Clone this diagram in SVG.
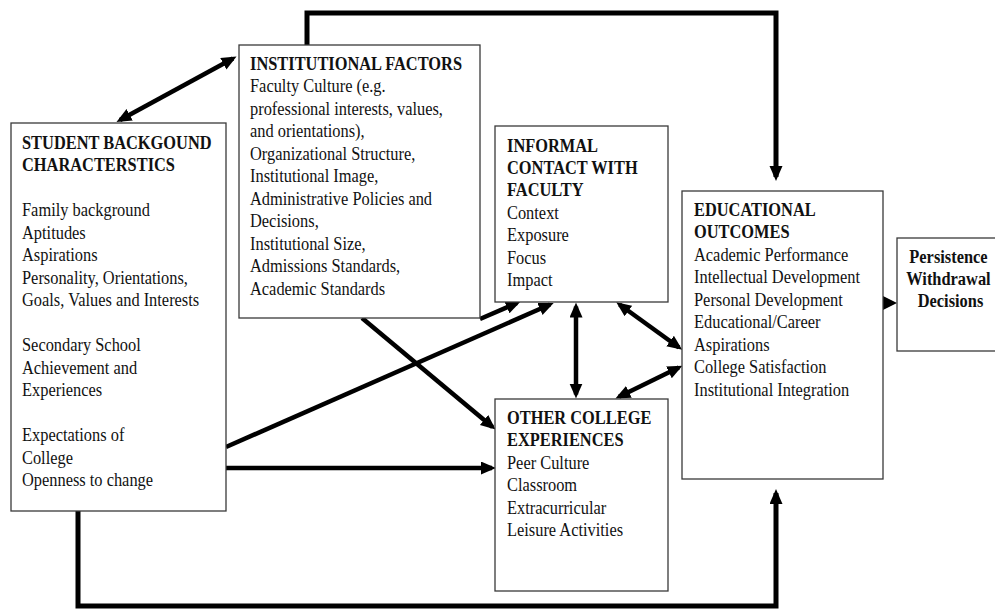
<svg xmlns="http://www.w3.org/2000/svg" width="995" height="610" viewBox="0 0 995 610">
  <style>
    .box { fill: #ffffff; stroke: #3a3a3a; stroke-width: 1.3; }
    .t { font-family: "Liberation Serif", "Times New Roman", serif; font-size: 16.4px; fill: #111111; }
    .b { font-weight: bold; }
    .c { fill: none; stroke: #000000; stroke-width: 4.5; stroke-linejoin: miter; }
    .thick { stroke-width: 5; }
  </style>
  <defs>
    <marker id="head" markerUnits="userSpaceOnUse" markerWidth="16" markerHeight="14" refX="11" refY="6.5" orient="auto-start-reverse">
      <path d="M0,0 L15,6.5 L0,13 z" fill="#000000"/>
    </marker>
  </defs>

  <rect width="995" height="610" fill="#ffffff"/>

  <!-- connectors -->
  <g id="connectors">
    <!-- feedback loop over the top: institutional factors to outcomes -->
    <path class="c thick" d="M307,45 V13 H776 V177" marker-end="url(#head)"/>
    <!-- loop along the bottom: background to outcomes -->
    <path class="c thick" d="M78,511 V606 H776 V493" marker-end="url(#head)"/>
    <!-- background <-> institutional -->
    <path class="c" d="M120,120 L233,58.5" marker-start="url(#head)" marker-end="url(#head)"/>
    <!-- background -> informal contact -->
    <path class="c" d="M226,447 L550,304.5" marker-end="url(#head)"/>
    <!-- background -> other experiences -->
    <path class="c" d="M226,468 L492,468" marker-end="url(#head)"/>
    <!-- institutional -> informal contact -->
    <path class="c" d="M480,319 L517,303" marker-end="url(#head)"/>
    <!-- institutional -> other experiences -->
    <path class="c" d="M362,318 L492.5,427" marker-end="url(#head)"/>
    <!-- informal <-> other experiences -->
    <path class="c" d="M576,306.5 L576,394.5" marker-start="url(#head)" marker-end="url(#head)"/>
    <!-- informal <-> outcomes -->
    <path class="c" d="M619.5,304.5 L679,347.5" marker-start="url(#head)" marker-end="url(#head)"/>
    <!-- other experiences <-> outcomes -->
    <path class="c" d="M619,396.8 L678.8,367.5" marker-start="url(#head)" marker-end="url(#head)"/>
    <!-- outcomes -> persistence -->
    <path d="M883,296 L897,303 L883,310 z" fill="#000000"/>
  </g>

  <!-- student background -->
  <g id="student">
    <rect class="box" x="11" y="123" width="215" height="388"/>
    <text class="t" transform="translate(22 149) scale(1 1.13)">
      <tspan class="b" x="0" y="0">STUDENT BACKGOUND</tspan>
      <tspan class="b" x="0" dy="19.9">CHARACTERSTICS</tspan>
      <tspan x="0" dy="39.8">Family background</tspan>
      <tspan x="0" dy="19.9">Aptitudes</tspan>
      <tspan x="0" dy="19.9">Aspirations</tspan>
      <tspan x="0" dy="19.9">Personality, Orientations,</tspan>
      <tspan x="0" dy="19.9">Goals, Values and Interests</tspan>
      <tspan x="0" dy="39.8">Secondary School</tspan>
      <tspan x="0" dy="19.9">Achievement and</tspan>
      <tspan x="0" dy="19.9">Experiences</tspan>
      <tspan x="0" dy="39.8">Expectations of</tspan>
      <tspan x="0" dy="19.9">College</tspan>
      <tspan x="0" dy="19.9">Openness to change</tspan>
    </text>
  </g>

  <!-- institutional factors -->
  <g id="institutional">
    <rect class="box" x="239" y="45" width="241" height="273"/>
    <text class="t" transform="translate(250 70) scale(1 1.13)">
      <tspan class="b" x="0" y="0">INSTITUTIONAL FACTORS</tspan>
      <tspan x="0" dy="19.9">Faculty Culture (e.g.</tspan>
      <tspan x="0" dy="19.9">professional interests, values,</tspan>
      <tspan x="0" dy="19.9">and orientations),</tspan>
      <tspan x="0" dy="19.9">Organizational Structure,</tspan>
      <tspan x="0" dy="19.9">Institutional Image,</tspan>
      <tspan x="0" dy="19.9">Administrative Policies and</tspan>
      <tspan x="0" dy="19.9">Decisions,</tspan>
      <tspan x="0" dy="19.9">Institutional Size,</tspan>
      <tspan x="0" dy="19.9">Admissions Standards,</tspan>
      <tspan x="0" dy="19.9">Academic Standards</tspan>
    </text>
  </g>

  <!-- informal contact with faculty -->
  <g id="informal">
    <rect class="box" x="495" y="126" width="173" height="176"/>
    <text class="t" transform="translate(507 151.5) scale(1 1.13)">
      <tspan class="b" x="0" y="0">INFORMAL</tspan>
      <tspan class="b" x="0" dy="19.9">CONTACT WITH</tspan>
      <tspan class="b" x="0" dy="19.9">FACULTY</tspan>
      <tspan x="0" dy="19.9">Context</tspan>
      <tspan x="0" dy="19.9">Exposure</tspan>
      <tspan x="0" dy="19.9">Focus</tspan>
      <tspan x="0" dy="19.9">Impact</tspan>
    </text>
  </g>

  <!-- other college experiences -->
  <g id="other">
    <rect class="box" x="495" y="399" width="173" height="192"/>
    <text class="t" transform="translate(507 424) scale(1 1.13)">
      <tspan class="b" x="0" y="0">OTHER COLLEGE</tspan>
      <tspan class="b" x="0" dy="19.9">EXPERIENCES</tspan>
      <tspan x="0" dy="19.9">Peer Culture</tspan>
      <tspan x="0" dy="19.9">Classroom</tspan>
      <tspan x="0" dy="19.9">Extracurricular</tspan>
      <tspan x="0" dy="19.9">Leisure Activities</tspan>
    </text>
  </g>

  <!-- educational outcomes -->
  <g id="outcomes">
    <rect class="box" x="682" y="191" width="201" height="288"/>
    <text class="t" transform="translate(694 216) scale(1 1.13)">
      <tspan class="b" x="0" y="0">EDUCATIONAL</tspan>
      <tspan class="b" x="0" dy="19.9">OUTCOMES</tspan>
      <tspan x="0" dy="19.9">Academic Performance</tspan>
      <tspan x="0" dy="19.9">Intellectual Development</tspan>
      <tspan x="0" dy="19.9">Personal Development</tspan>
      <tspan x="0" dy="19.9">Educational/Career</tspan>
      <tspan x="0" dy="19.9">Aspirations</tspan>
      <tspan x="0" dy="19.9">College Satisfaction</tspan>
      <tspan x="0" dy="19.9">Institutional Integration</tspan>
    </text>
  </g>

  <!-- persistence / withdrawal decisions -->
  <g id="persistence">
    <rect class="box" x="897" y="238" width="110" height="113"/>
    <text class="t b" text-anchor="middle" transform="translate(950.5 262.5) scale(1 1.13)">
      <tspan x="0" y="0">Persistence</tspan>
      <tspan x="0" dy="19.9">Withdrawal</tspan>
      <tspan x="0" dy="19.9">Decisions</tspan>
    </text>
  </g>
</svg>
